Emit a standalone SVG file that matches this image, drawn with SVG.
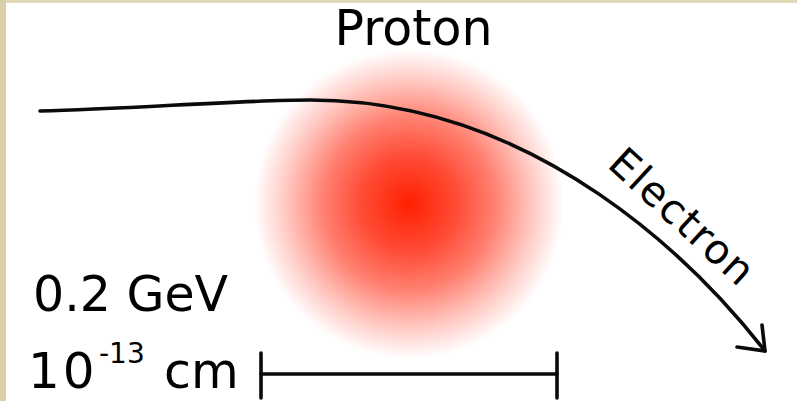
<svg xmlns="http://www.w3.org/2000/svg" width="797" height="401" viewBox="0 0 797 401">
  <style>
    .lbl { font-family: "DejaVu Sans", Verdana, sans-serif; fill: #000; }
    .ln { fill: none; stroke: #0a0a0a; stroke-width: 3.6; stroke-linecap: round; stroke-linejoin: round; }
  </style>
  <defs>
    <radialGradient id="protonGrad" cx="409" cy="204" r="155" gradientUnits="userSpaceOnUse">
      <stop offset="0" stop-color="#ff2000" stop-opacity="1"/>
      <stop offset="0.3" stop-color="#ff2a10" stop-opacity="0.85"/>
      <stop offset="0.55" stop-color="#ff2a10" stop-opacity="0.6"/>
      <stop offset="0.8" stop-color="#ff2a10" stop-opacity="0.25"/>
      <stop offset="1" stop-color="#ff2a10" stop-opacity="0"/>
    </radialGradient>
  </defs>
  <rect x="0" y="0" width="797" height="401" fill="#ffffff"/>
  <rect x="0" y="0" width="797" height="3" fill="#e3d9b9"/>
  <rect x="0" y="0" width="6" height="401" fill="#dbcfab"/>

  <g id="proton">
    <circle cx="409" cy="204" r="155" fill="url(#protonGrad)"/>
    <text class="lbl" x="413.5" y="45" font-size="49" text-anchor="middle">Proton</text>
  </g>

  <g id="connectors">
    <path id="electron-path" class="ln" d="M40,111 C130,109 240,100 310,100 C540,100 700,268 765,351"/>
    <polyline class="ln" points="737,347 765,351 762,325"/>
  </g>

  <g id="electron">
    <text class="lbl" x="606" y="166" font-size="41" transform="rotate(42.5 606 166)" textLength="180" lengthAdjust="spacing">Electron</text>
  </g>

  <g id="energy">
    <text class="lbl" x="33" y="311" font-size="49">0.2 GeV</text>
  </g>

  <g id="scale">
    <text class="lbl" x="28" y="388" font-size="50" letter-spacing="3">10</text>
    <text class="lbl" x="99" y="363" font-size="28">-13</text>
    <text class="lbl" x="164" y="388" font-size="49">cm</text>
    <line class="ln" x1="261" y1="374" x2="557" y2="374"/>
    <line class="ln" x1="261" y1="353" x2="261" y2="398"/>
    <line class="ln" x1="557" y1="353" x2="557" y2="398"/>
  </g>
</svg>
